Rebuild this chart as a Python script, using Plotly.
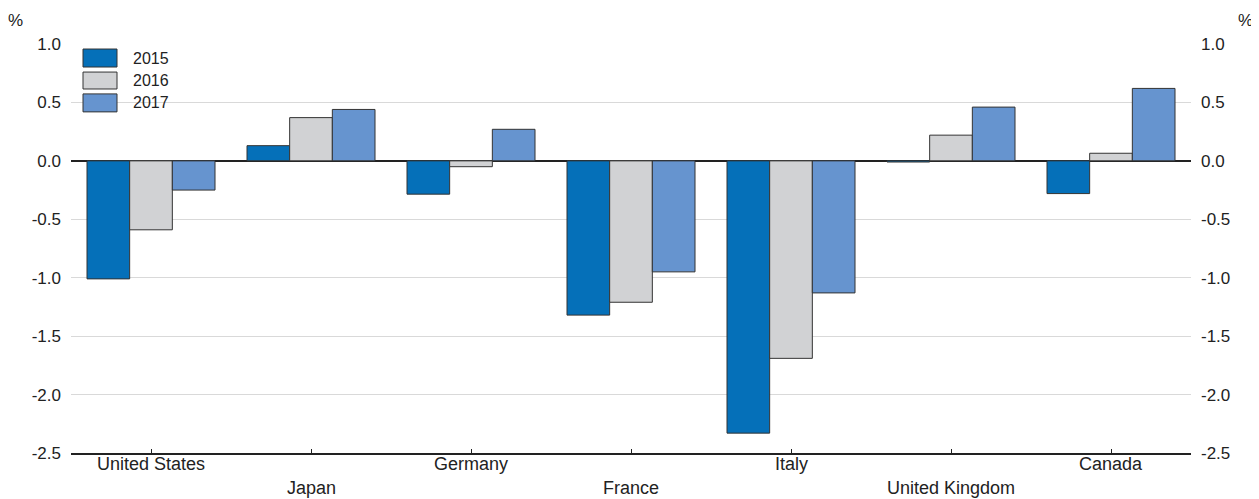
import plotly.graph_objects as go

countries = ["United States", "Japan", "Germany", "France", "Italy", "United Kingdom", "Canada"]
years = ["2015", "2016", "2017"]
v2015 = [-1.01, 0.13, -0.285, -1.32, -2.33, -0.01, -0.28]
v2016 = [-0.59, 0.37, -0.05, -1.21, -1.69, 0.22, 0.065]
v2017 = [-0.25, 0.44, 0.27, -0.95, -1.13, 0.46, 0.62]
colors = ["#0570b9", "#d1d2d4", "#6694cf"]
y_ticks = [1.0, 0.5, 0.0, -0.5, -1.0, -1.5, -2.0, -2.5]

FONT = "Liberation Sans, Arial, sans-serif"
fig = go.Figure()
for name, vals, col in zip(years, [v2015, v2016, v2017], colors):
    fig.add_trace(go.Bar(x=countries, y=vals, name=name, marker_color=col,
                         marker_line=dict(color="#333333", width=1), showlegend=False))
# invisible trace for right axis
fig.add_trace(go.Scatter(x=[countries[0]], y=[0], yaxis="y2", mode="markers",
                         marker=dict(opacity=0), showlegend=False, hoverinfo="skip"))

tick_fmt = [f"{t:.1f}" for t in y_ticks]
fig.update_layout(
    width=1251, height=491,
    margin=dict(l=63, r=68, t=36, b=45.5),
    plot_bgcolor="white", paper_bgcolor="white",
    barmode="group", bargap=0.2, bargroupgap=0,
    font=dict(family=FONT, size=17, color="#222222"),
    xaxis=dict(type="category", categoryorder="array", categoryarray=countries,
               range=[-0.5, 6.5], showticklabels=False, ticks="inside", ticklen=4,
               tickcolor="#222222", showline=True, linecolor="#222222", linewidth=1.5,
               showgrid=False, zeroline=False),
    yaxis=dict(range=[-2.5, 1.0], tickvals=y_ticks, ticktext=tick_fmt,
               showgrid=True, gridcolor="#d9d9d9", gridwidth=1,
               zeroline=True, zerolinecolor="#222222", zerolinewidth=1.5,
               ticks="", ticklabelstandoff=9, showline=False),
    yaxis2=dict(range=[-2.5, 1.0], tickvals=y_ticks, ticktext=tick_fmt,
                overlaying="y", side="right", showgrid=False, zeroline=False,
                ticks="", ticklabelstandoff=9, showline=False),
)

ann = []
for i, c in enumerate(countries):
    ann.append(dict(x=c, xref="x", y=0, yref="paper", text=c, showarrow=False,
                    yanchor="middle", yshift=-11 if i % 2 == 0 else -35,
                    font=dict(size=18)))
ann.append(dict(x=-0.05, xref="paper", y=1, yref="paper", text="%", showarrow=False,
                xanchor="center", yanchor="middle", yshift=24))
ann.append(dict(x=1.049, xref="paper", y=1, yref="paper", text="%", showarrow=False,
                xanchor="center", yanchor="middle", yshift=24))

shapes = []
box_y = [(0.957, 0.803), (0.76, 0.615), (0.573, 0.419)]
for name, col, (y1, y0) in zip(years, colors, box_y):
    shapes.append(dict(type="rect", xref="x", yref="y", x0=-0.425, x1=-0.2125,
                       y0=y0, y1=y1, fillcolor=col, line=dict(color="#333333", width=1)))
    ann.append(dict(x=-0.125, xref="x", y=(y0 + y1) / 2, yref="y", text=name,
                    showarrow=False, xanchor="left", yanchor="middle", font=dict(size=16)))

fig.update_layout(annotations=ann, shapes=shapes)
fig.write_html("out.html")
